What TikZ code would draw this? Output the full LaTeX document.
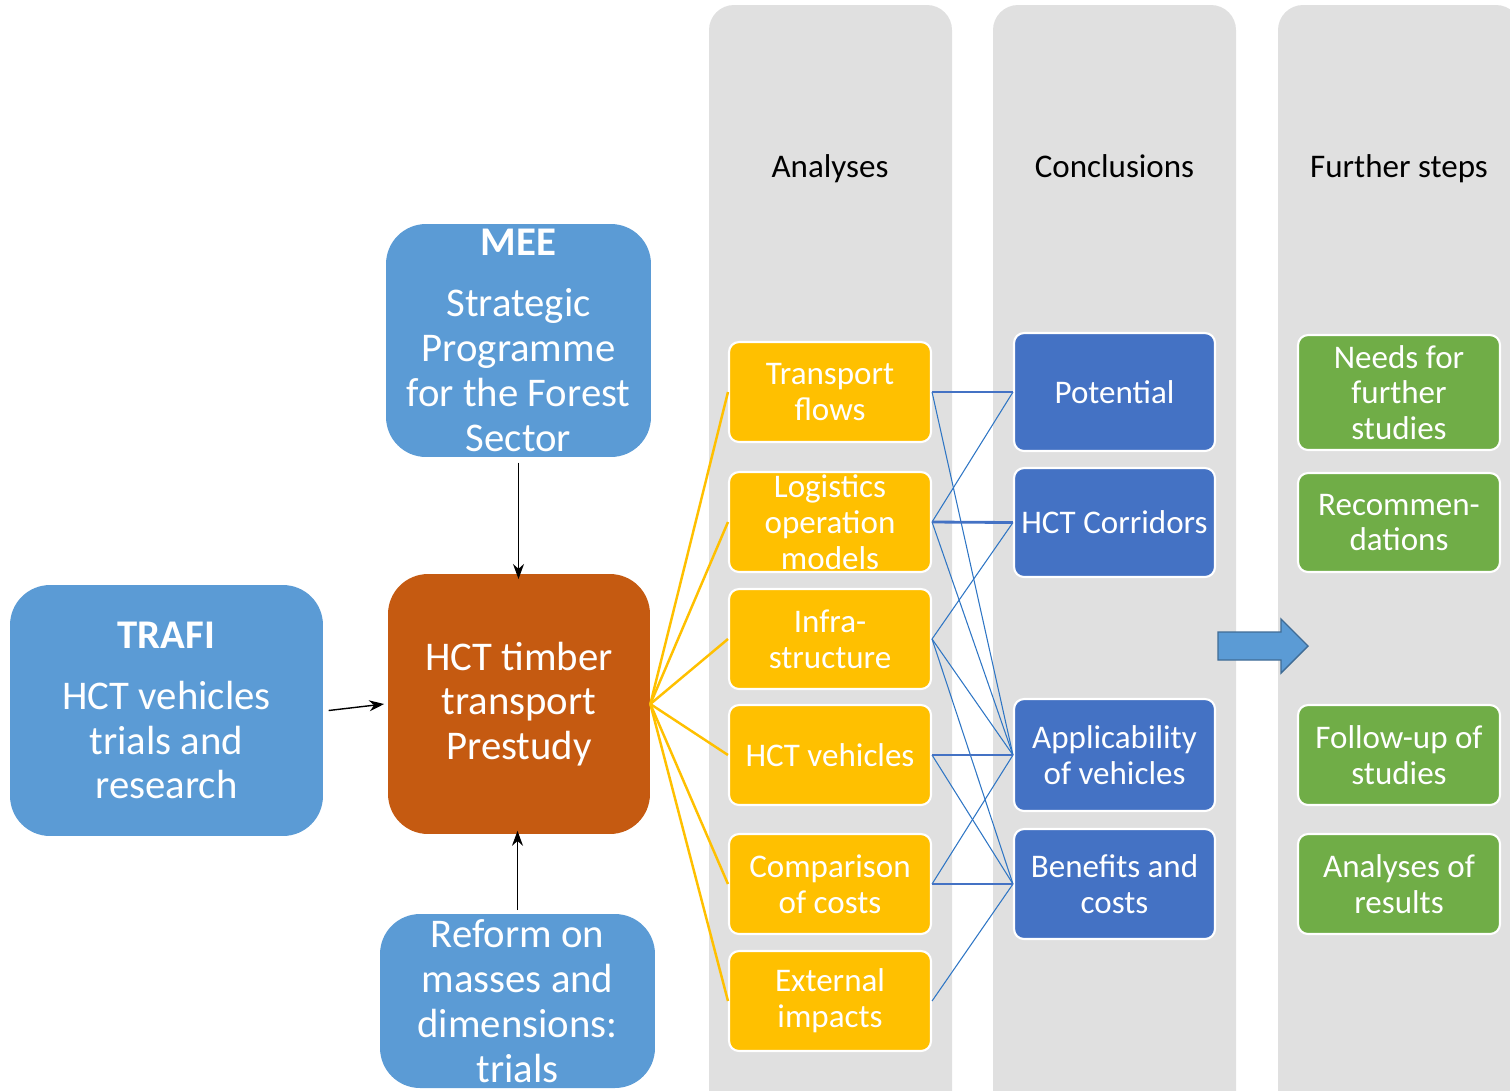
\documentclass[tikz,border=0pt]{standalone}
\usepackage{fontspec}
\setmainfont{Carlito}
\usetikzlibrary{arrows.meta,positioning}
\definecolor{skyblue}{RGB}{91,155,213}
\definecolor{royal}{RGB}{68,114,196}
\definecolor{rust}{RGB}{197,90,17}
\definecolor{gold}{RGB}{255,192,0}
\definecolor{moss}{RGB}{112,173,71}
\definecolor{column}{RGB}{224,224,224}
\definecolor{wire}{RGB}{46,117,196}
\definecolor{ink}{RGB}{0,0,0}
\tikzset{
  >={Stealth[length=3mm,width=2.2mm]},
  big/.style={fill=#1,rounded corners=0.8cm,text=white,align=center,inner sep=0pt,
    font=\fontsize{23.2}{25.5}\selectfont},
  big/.default=skyblue,
  card/.style={fill=#1,draw=white,line width=1.2pt,rounded corners=0.2cm,text=white,
    align=center,inner sep=0pt,minimum width=4.04cm,minimum height=2cm,
    font=\fontsize{18.8}{20.4}\selectfont},
  card/.default=gold,
  head/.style={font=\fontsize{18.8}{20}\selectfont,text=ink,anchor=base},
  feed/.style={gold,line width=1.4pt},
  link/.style={wire,line width=0.6pt},
  main link/.style={royal,line width=1.6pt},
  flow/.style={->,ink,line width=0.8pt},
}
\begin{document}
\begin{tikzpicture}[x=0.02cm,y=-0.02cm]
  \useasboundingbox (0,0) rectangle (1510,1090);
  % grey columns
  \foreach \x in {709,993,1278}
    \fill[column,rounded corners=0.5cm] (\x,5) rectangle ++(243,1120);
  \node[head] (hana) at (830,177) {Analyses};
  \node[head] (hcon) at (1114.5,177) {Conclusions};
  \node[head] (hfur) at (1399,177) {Further steps};

  % left side
  \node[big,minimum width=5.3cm,minimum height=4.66cm] (mee) at (518.5,340.5)
    {\textbf{MEE}\\[0.4em]Strategic\\Programme\\for the Forest\\Sector};
  \node[big,minimum width=6.26cm,minimum height=5.02cm] (trafi) at (166.5,710.5)
    {\textbf{TRAFI}\\[0.4em]HCT vehicles\\trials and\\research};
  \node[big=rust,minimum width=5.24cm,minimum height=5.2cm] (pre) at (519,704)
    {HCT timber\\transport\\Prestudy};
  \node[big,minimum width=5.5cm,minimum height=3.48cm] (reform) at (517.5,1001)
    {Reform on\\masses and\\dimensions:\\trials};
  \draw[flow] ([yshift=-3pt]mee.south) -- ([yshift=-3pt]mee.south |- pre.north);
  \draw[flow] ([xshift=3pt]trafi.east) -- ([xshift=-2pt]pre.west);
  \draw[flow] ([yshift=2pt]reform.north) -- ([yshift=2pt]reform.north |- pre.south);

  % analyses
  \node[card] (tf) at (830,392) {Transport\\flows};
  \node[card] (lo) at (830,522) {Logistics\\operation\\models};
  \node[card] (infra) at (830,639) {Infra-\\structure};
  \node[card] (hv) at (830,755) {HCT vehicles};
  \node[card] (co) at (830,884) {Comparison\\of costs};
  \node[card] (ex) at (830,1001) {External\\impacts};

  % conclusions
  \node[card=royal,minimum width=4.02cm,minimum height=2.36cm] (pot) at (1114.5,392) {Potential};
  \node[card=royal,minimum width=4.02cm,minimum height=2.18cm] (cor) at (1114.5,522.5) {HCT Corridors};
  \node[card=royal,minimum width=4.02cm,minimum height=2.24cm] (app) at (1114.5,755) {Applicability\\of vehicles};
  \node[card=royal,minimum width=4.02cm,minimum height=2.2cm] (ben) at (1114.5,884) {Benefits and\\costs};

  % further steps
  \node[card=moss,minimum height=2.3cm] (need) at (1399,392.5) {Needs for\\further\\studies};
  \node[card=moss,minimum height=1.98cm] (rec) at (1399,522.5) {Recommen-\\dations};
  \node[card=moss] (fol) at (1399,755) {Follow-up of\\studies};
  \node[card=moss] (res) at (1399,884) {Analyses of\\results};

  % connectors
  \foreach \n in {tf,lo,infra,hv,co,ex}
    \draw[feed] (pre.east) -- (\n.west);
  \foreach \a/\b in {tf/app,lo/pot,lo/app,infra/cor,infra/app,infra/ben,hv/ben,co/app,ex/ben}
    \draw[link] (\a.east) -- (\b.west);
  \foreach \a/\b in {tf/pot,lo/cor,hv/app,co/ben}
    \draw[main link] (\a.east) -- (\b.west);

  % block arrow
  \draw[fill=skyblue,draw=skyblue!70!black,line width=0.8pt]
    (1218,632) -- (1281,632) -- (1281,619) -- (1308,646) -- (1281,673) -- (1281,660)
    -- (1218,660) -- cycle;
\end{tikzpicture}
\end{document}
